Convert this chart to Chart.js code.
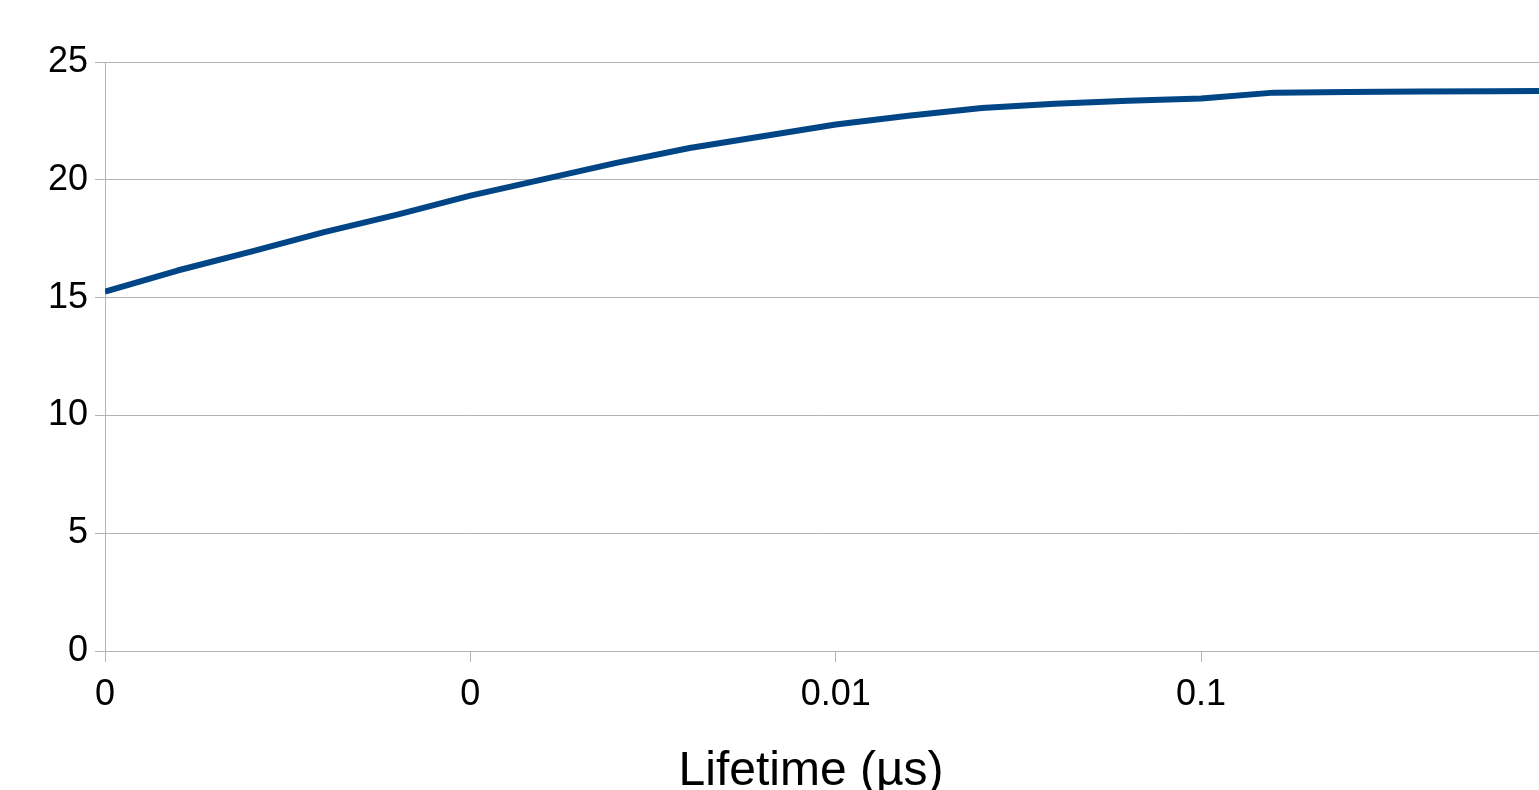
<!DOCTYPE html>
<html>
<head>
<meta charset="utf-8">
<script src="https://cdn.jsdelivr.net/npm/chart.js@4/dist/chart.umd.min.js"></script>
<style>
  html, body { margin: 0; padding: 0; background: #ffffff; overflow: hidden; }
  #wrap { width: 1539px; height: 790px; position: relative; }
</style>
</head>
<body>
<div id="wrap"><canvas id="chart"></canvas></div>
<script>
// Lifetime values (µs), five points per decade
const lifetimes = [
  0.0001, 0.000158, 0.000251, 0.000398, 0.000631,
  0.001, 0.00158, 0.00251, 0.00398, 0.00631,
  0.01, 0.0158, 0.0251, 0.0398, 0.0631,
  0.1, 0.158, 0.251, 0.398, 0.631,
  1.0
];
// Measured response at each lifetime
const response = [
  15.25, 16.15, 16.95, 17.78, 18.52,
  19.33, 20.02, 20.72, 21.35, 21.85,
  22.35, 22.72, 23.05, 23.23, 23.36,
  23.45, 23.70, 23.73, 23.75, 23.76,
  23.78
];
// Decade ticks on the lifetime axis and their printed labels
const xTickValues = [0.0001, 0.001, 0.01, 0.1];
const xTickLabels = ['0', '0', '0.01', '0.1'];
const xTitle = 'Lifetime (µs)';

const FONT = 'Liberation Sans, Arial, sans-serif';
const GRID = '#b3b3b3';

// Draws the lifetime axis title, centred over the whole canvas
const axisTitle = {
  id: 'axisTitle',
  afterDraw(chart) {
    const ctx = chart.ctx;
    ctx.save();
    ctx.font = '48px ' + FONT;
    ctx.fillStyle = '#000000';
    ctx.textAlign = 'center';
    ctx.textBaseline = 'alphabetic';
    ctx.fillText(xTitle, chart.width * 0.527, chart.height - 5);
    ctx.restore();
  }
};

new Chart(document.getElementById('chart'), {
  type: 'line',
  data: {
    datasets: [{
      data: lifetimes.map((x, i) => ({ x: x, y: response[i] })),
      borderColor: '#004586',
      backgroundColor: '#004586',
      borderWidth: 6,
      pointRadius: 0,
      tension: 0,
      borderJoinStyle: 'round',
      fill: false
    }]
  },
  options: {
    responsive: true,
    maintainAspectRatio: false,
    animation: false,
    layout: { padding: { top: 62, right: 0, left: 0, bottom: 0 } },
    plugins: { legend: { display: false }, tooltip: { enabled: false } },
    scales: {
      x: {
        type: 'logarithmic',
        min: 0.0001,
        max: 0.841,
        afterBuildTicks: (scale) => {
          scale.ticks = xTickValues.map(v => ({ value: v }));
        },
        afterFit: (scale) => { scale.height = 139; },
        ticks: {
          autoSkip: false,
          maxRotation: 0,
          padding: 11,
          color: '#000000',
          font: { family: FONT, size: 36 },
          callback: (value, index) => xTickLabels[index]
        },
        grid: {
          drawOnChartArea: false,
          drawTicks: true,
          tickLength: 11,
          color: GRID,
          lineWidth: 1
        },
        border: { display: true, color: GRID, width: 1 },
        title: { display: false }
      },
      y: {
        min: 0,
        max: 25,
        afterFit: (scale) => { scale.width = 105; },
        ticks: {
          stepSize: 5,
          padding: 7,
          color: '#000000',
          font: { family: FONT, size: 36 }
        },
        grid: {
          color: GRID,
          lineWidth: 1,
          drawTicks: true,
          tickLength: 10
        },
        border: { display: true, color: GRID, width: 1 }
      }
    }
  },
  plugins: [axisTitle]
});
</script>
</body>
</html>
